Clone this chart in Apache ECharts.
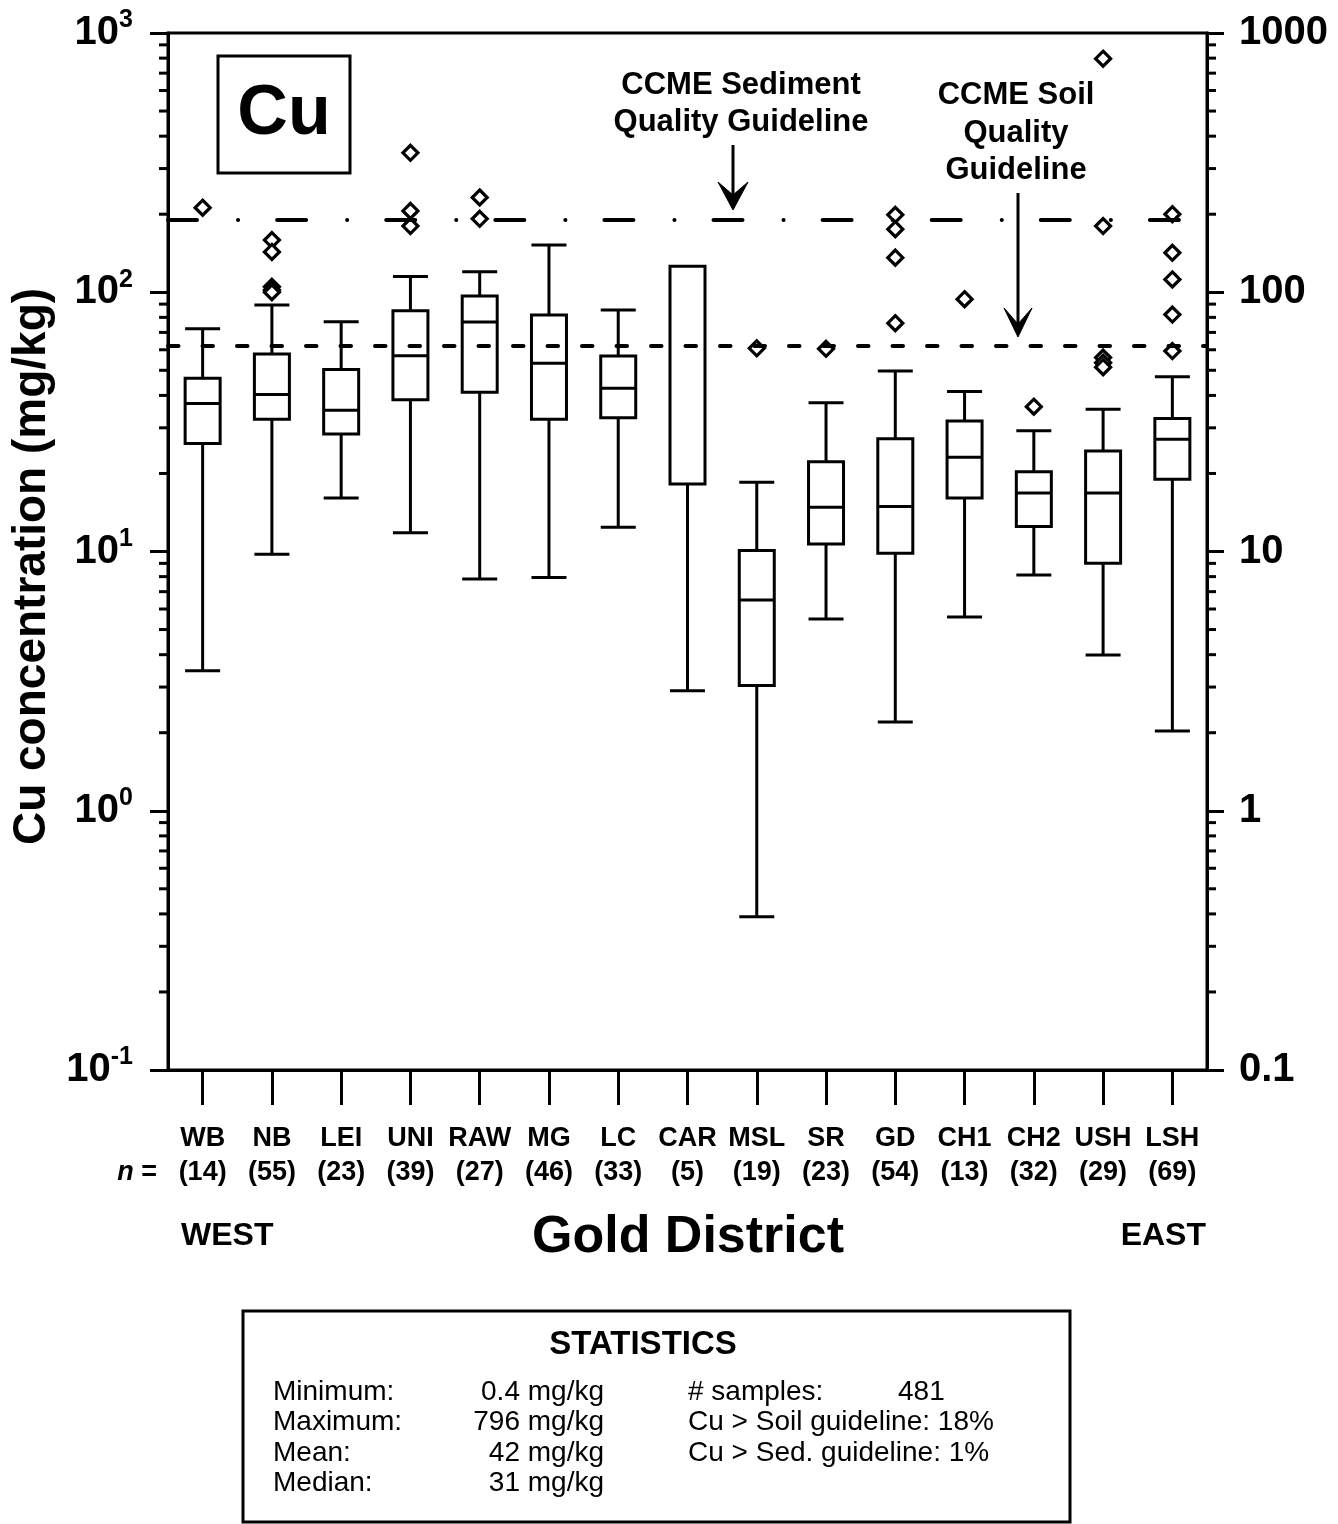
<!DOCTYPE html>
<html>
<head>
<meta charset="utf-8">
<script src="https://cdn.jsdelivr.net/npm/echarts@6/dist/echarts.min.js"></script>
<style>
html,body{margin:0;padding:0;background:#fff;}
#chart{width:1338px;height:1524px;}
</style>
</head>
<body>
<div id="chart"></div>
<script>
// ---- data ----
const categories = ['WB','NB','LEI','UNI','RAW','MG','LC','CAR','MSL','SR','GD','CH1','CH2','USH','LSH'];
const sampleCounts = [14,55,23,39,27,46,33,5,19,23,54,13,32,29,69];
const whiskerLow  = [3.47, 9.75, 16.1, 11.8, 7.83, 7.93, 12.4, 2.90, 0.39, 5.49, 2.20, 5.59, 8.12, 3.99, 2.03];
const quartile1   = [26.1, 32.4, 28.4, 38.5, 41.1, 32.4, 32.8, 18.2, 3.04, 10.7, 9.84, 16.1, 12.5, 9.0, 19.0];
const medians     = [37.2, 40.3, 35.1, 56.9, 76.8, 53.2, 42.6, 18.2, 6.50, 14.8, 14.9, 23.1, 16.8, 16.8, 27.1];
const quartile3   = [46.6, 57.8, 50.4, 84.9, 96.7, 81.7, 56.8, 126, 10.1, 22.2, 27.2, 31.9, 20.3, 24.4, 32.6];
const whiskerHigh = [72.3, 89.3, 77.0, 115, 120, 152, 85.4, 126, 18.5, 37.5, 49.7, 41.4, 29.2, 35.4, 47.2];
const outlierCategory = ['WB','NB','NB','NB','NB','NB','UNI','UNI','UNI','RAW','RAW','MSL','SR',
                         'GD','GD','GD','GD','CH1','CH2','USH','USH','USH','USH','USH',
                         'LSH','LSH','LSH','LSH','LSH'];
const outlierValue = [212, 159, 143, 105, 102, 100, 345, 206, 180, 232, 192, 60.8, 60.5,
                      199, 175, 136, 76, 94, 36.2, 796, 180, 56, 53.5, 51.4,
                      200, 142, 112, 82, 59.3];
const sedimentGuideline = 190;
const soilGuideline = 62;
const minorTickValues = [0.2,0.3,0.4,0.5,0.6,0.7,0.8,0.9,
                         2,3,4,5,6,7,8,9,
                         20,30,40,50,60,70,80,90,
                         200,300,400,500,600,700,800,900];
const rightTickLabels = {'-1':'0.1','0':'1','1':'10','2':'100','3':'1000'};

// ---- chart ----
const FONT = '"Liberation Sans", Arial, Helvetica, sans-serif';
const chart = echarts.init(document.getElementById('chart'), null, {renderer:'canvas'});

const boxData = categories.map((c, i) => [whiskerLow[i], quartile1[i], medians[i], quartile3[i], whiskerHigh[i]]);
const outlierData = outlierCategory.map((c, i) => [c, outlierValue[i]]);

function expOf(v){ return Math.round(Math.log10(v)); }

const option = {
  animation: false,
  backgroundColor: '#fff',
  textStyle: {fontFamily: FONT, color: '#000'},
  grid: {left:168, top:33, width:1039, height:1037, show:true, borderColor:'#000', borderWidth:3, backgroundColor:'transparent'},
  xAxis: {
    type: 'category',
    data: categories,
    boundaryGap: true,
    axisLine: {show:true, lineStyle:{color:'#000', width:3}},
    axisTick: {show:true, alignWithLabel:true, length:35, inside:false, lineStyle:{color:'#000', width:3}},
    axisLabel: {
      interval: 0, margin: 52, color:'#000', fontFamily: FONT, fontSize: 27, fontWeight:'bold', lineHeight: 34,
      formatter: (v, i) => v + '\n(' + sampleCounts[i] + ')'
    },
    splitLine: {show:false}
  },
  yAxis: [
    {
      type: 'log', logBase: 10, min: 0.1, max: 1000, position: 'left',
      name: 'Cu concentration (mg/kg)', nameLocation: 'middle', nameGap: 111, nameRotate: 90,
      nameTextStyle: {fontFamily: FONT, fontSize: 46, fontWeight: 'bold', color:'#000', padding:[0, 30, 0, 0]},
      axisLine: {show:true, lineStyle:{color:'#000', width:3}},
      axisTick: {show:true, length:18, inside:false, lineStyle:{color:'#000', width:3}},
      splitLine: {show:false},
      axisLabel: {
        margin: 35, color:'#000',
        formatter: v => '{b|10}{s|' + expOf(v) + '}',
        rich: {
          b: {fontFamily: FONT, fontSize: 40, fontWeight:'bold', lineHeight: 50, color:'#000'},
          s: {fontFamily: FONT, fontSize: 25, fontWeight:'bold', lineHeight: 22, verticalAlign:'top', color:'#000'}
        }
      }
    },
    {
      type: 'log', logBase: 10, min: 0.1, max: 1000, position: 'right',
      axisLine: {show:true, lineStyle:{color:'#000', width:3}},
      axisTick: {show:true, length:17, inside:false, lineStyle:{color:'#000', width:3}},
      splitLine: {show:false},
      axisLabel: {
        margin: 32, color:'#000', fontFamily: FONT, fontSize: 40, fontWeight:'bold',
        formatter: v => rightTickLabels[String(expOf(v))]
      }
    }
  ],
  series: [
    {
      type: 'boxplot',
      data: boxData,
      boxWidth: [35, 35],
      itemStyle: {color:'rgba(0,0,0,0)', borderColor:'#000', borderWidth:3},
      emphasis: {disabled:true},
      silent: true,
      z: 2
    },
    {
      type: 'scatter',
      data: outlierData,
      symbol: 'diamond',
      symbolSize: 15,
      itemStyle: {color:'#fff', borderColor:'#000', borderWidth:3.2, opacity:1},
      emphasis: {disabled:true},
      silent: true,
      z: 3
    },
    {
      type: 'custom',
      coordinateSystem: 'cartesian2d',
      data: minorTickValues.map(v => [0, v]),
      clip: false,
      silent: true,
      z: 4,
      renderItem: function(params, api){
        const cs = params.coordSys;
        const y = api.coord([0, api.value(1)])[1];
        return {
          type: 'group',
          children: [
            {type:'line', shape:{x1:cs.x - 9, y1:y, x2:cs.x, y2:y}, style:{stroke:'#000', lineWidth:3}},
            {type:'line', shape:{x1:cs.x + cs.width, y1:y, x2:cs.x + cs.width + 9, y2:y}, style:{stroke:'#000', lineWidth:3}}
          ]
        };
      }
    },
    {
      type: 'line',
      data: [],
      silent: true,
      z: 10,
      markLine: {
        silent: true,
        symbol: ['none','none'],
        label: {show:false},
        emphasis: {disabled:true},
        data: [
          {yAxis: sedimentGuideline, lineStyle:{color:'#000', width:4, type:[29,41,0.1,39], cap:'round'}},
          {yAxis: soilGuideline, lineStyle:{color:'#000', width:4, type:[10.5,24], cap:'round'}}
        ]
      }
    }
  ],
  graphic: [
    // element tag box
    {type:'rect', shape:{x:218, y:56, width:132, height:117}, style:{fill:'#fff', stroke:'#000', lineWidth:3}, z:20},
    {type:'text', x:284, y:115, style:{text:'Cu', font:'bold 70px ' + FONT, fill:'#000', align:'center', verticalAlign:'middle'}, z:21},
    // sediment guideline annotation
    {type:'text', x:741, y:67, style:{text:'CCME Sediment\nQuality Guideline', font:'bold 31px ' + FONT, lineHeight:37, fill:'#000', align:'center', verticalAlign:'top'}, z:20},
    {type:'line', shape:{x1:733, y1:145, x2:733, y2:200}, style:{stroke:'#000', lineWidth:3}, z:20},
    {type:'polygon', shape:{points:[[733,210],[718,182],[733,195],[748,182]]}, style:{fill:'#000', stroke:'#000', lineWidth:1}, z:20},
    // soil guideline annotation
    {type:'text', x:1016, y:77, style:{text:'CCME Soil\nQuality\nGuideline', font:'bold 31px ' + FONT, lineHeight:37.5, fill:'#000', align:'center', verticalAlign:'top'}, z:20},
    {type:'line', shape:{x1:1018, y1:193, x2:1018, y2:328}, style:{stroke:'#000', lineWidth:3}, z:20},
    {type:'polygon', shape:{points:[[1018,337],[1004,308],[1018,324],[1032,308]]}, style:{fill:'#000', stroke:'#000', lineWidth:1}, z:20},
    // n =
    {type:'text', x:157, y:1173, style:{text:'{i|n} =', rich:{i:{font:'italic bold 27px ' + FONT}}, font:'bold 27px ' + FONT, fill:'#000', align:'right', verticalAlign:'middle'}, z:20},
    // x axis titles
    {type:'text', x:181, y:1236, style:{text:'WEST', font:'bold 32px ' + FONT, fill:'#000', align:'left', verticalAlign:'middle'}, z:20},
    {type:'text', x:1206, y:1236, style:{text:'EAST', font:'bold 32px ' + FONT, fill:'#000', align:'right', verticalAlign:'middle'}, z:20},
    {type:'text', x:688, y:1238, style:{text:'Gold District', font:'bold 52px ' + FONT, fill:'#000', align:'center', verticalAlign:'middle'}, z:20},
    // statistics box
    {type:'rect', shape:{x:243, y:1311, width:827, height:211}, style:{fill:'#fff', stroke:'#000', lineWidth:3}, z:20},
    {type:'text', x:643, y:1345, style:{text:'STATISTICS', font:'bold 33px ' + FONT, fill:'#000', align:'center', verticalAlign:'middle'}, z:21},
    {type:'text', x:273, y:1377, style:{text:'Minimum:\nMaximum:\nMean:\nMedian:', font:'28px ' + FONT, lineHeight:30.5, fill:'#000', align:'left', verticalAlign:'top'}, z:21},
    {type:'text', x:604, y:1377, style:{text:'0.4 mg/kg\n796 mg/kg\n42 mg/kg\n31 mg/kg', font:'28px ' + FONT, lineHeight:30.5, fill:'#000', align:'right', verticalAlign:'top'}, z:21},
    {type:'text', x:688, y:1377, style:{text:'# samples:\nCu > Soil guideline: 18%\nCu > Sed. guideline: 1%', font:'28px ' + FONT, lineHeight:30.5, fill:'#000', align:'left', verticalAlign:'top'}, z:21},
    {type:'text', x:898, y:1377, style:{text:'481', font:'28px ' + FONT, lineHeight:30.5, fill:'#000', align:'left', verticalAlign:'top'}, z:21}
  ]
};
chart.setOption(option);
</script>
</body>
</html>
